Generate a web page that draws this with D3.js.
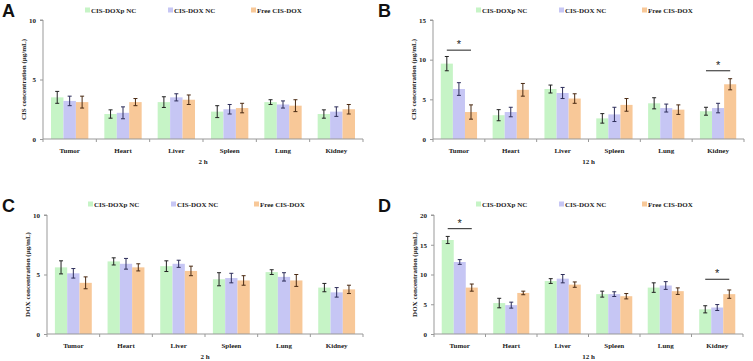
<!DOCTYPE html>
<html>
<head>
<meta charset="utf-8">
<script src="https://cdn.jsdelivr.net/npm/d3@7"></script>
<style>
  body { margin: 0; background: #fff; }
  svg text { font-family: "Liberation Serif", "Times New Roman", serif; font-weight: bold; fill: #222; }
</style>
</head>
<body>
<svg width="753" height="361"></svg>
<script>
var organs = ["Tumor", "Heart", "Liver", "Spleen", "Lung", "Kidney"];
var groups = ["CIS-DOXp NC", "CIS-DOX NC", "Free CIS-DOX"];
var colors = ["#c6f4c6", "#c6c6f4", "#f8c898"];
var errColors = ["#222222", "#2e2e5a", "#4a2a12"];

// panel A: CIS 2 h
var cis2hMean = [[3.5, 3.2, 3.1], [2.1, 2.2, 3.1], [3.1, 3.5, 3.3], [2.3, 2.5, 2.6], [3.1, 2.9, 2.8], [2.1, 2.3, 2.5]];
var cis2hErr  = [[0.5, 0.4, 0.5], [0.35, 0.5, 0.3], [0.45, 0.3, 0.4], [0.5, 0.4, 0.4], [0.2, 0.3, 0.5], [0.35, 0.4, 0.4]];
// panel B: CIS 12 h
var cis12hMean = [[9.5, 6.3, 3.4], [3.0, 3.4, 6.2], [6.3, 5.8, 5.1], [2.6, 3.1, 4.3], [4.5, 3.9, 3.7], [3.5, 3.9, 6.9]];
var cis12hErr  = [[0.9, 0.8, 0.9], [0.7, 0.6, 0.8], [0.5, 0.7, 0.6], [0.6, 0.9, 0.8], [0.7, 0.5, 0.6], [0.5, 0.6, 0.7]];
// panel C: DOX 2 h
var dox2hMean = [[5.6, 5.1, 4.3], [6.1, 5.9, 5.6], [5.7, 5.9, 5.3], [4.6, 4.7, 4.5], [5.2, 4.8, 4.5], [3.9, 3.5, 3.75]];
var dox2hErr  = [[0.55, 0.4, 0.5], [0.3, 0.45, 0.3], [0.45, 0.3, 0.4], [0.55, 0.4, 0.4], [0.2, 0.35, 0.5], [0.35, 0.4, 0.35]];
// panel D: DOX 12 h
var dox12hMean = [[15.8, 12.1, 7.8], [5.2, 4.85, 6.9], [8.9, 9.3, 8.3], [6.7, 6.7, 6.35], [7.8, 8.15, 7.2], [4.15, 4.45, 6.7]];
var dox12hErr  = [[0.6, 0.4, 0.6], [0.8, 0.5, 0.3], [0.4, 0.7, 0.45], [0.5, 0.4, 0.45], [0.8, 0.65, 0.55], [0.6, 0.5, 0.7]];

var yTicksA = [0, 5, 10];
var yTicksB = [0, 5, 10, 15];
var yTicksC = [0, 5, 10];
var yTicksD = [0, 5, 10, 15, 20];

// significance bars: organ index, y value
var sigB = [{organ: 0, y: 11.2}, {organ: 5, y: 8.6}];
var sigD = [{organ: 0, y: 17.7}, {organ: 5, y: 9.2}];

var panels = [
  {letter: "A", ox: 0, oy: 0, left: 43, right: 363, mean: cis2hMean, err: cis2hErr, ticks: yTicksA, ylab: "CIS concentration (\u03bcg/mL)", xlab: "2 h", sig: [], legendX: 85},
  {letter: "B", ox: 376, oy: 0, left: 57, right: 368, mean: cis12hMean, err: cis12hErr, ticks: yTicksB, ylab: "CIS concentration (\u03bcg/mL)", xlab: "12 h", sig: sigB, legendX: 100},
  {letter: "C", ox: 0, oy: 180, left: 47, right: 363, mean: dox2hMean, err: dox2hErr, ticks: yTicksC, ylab: "DOX concentration (\u03bcg/mL)", xlab: "2 h", sig: [], legendX: 88},
  {letter: "D", ox: 376, oy: 180, left: 58, right: 367, mean: dox12hMean, err: dox12hErr, ticks: yTicksD, ylab: "DOX concentration (\u03bcg/mL)", xlab: "12 h", sig: sigD, legendX: 100}
];

var svg = d3.select("svg");

panels.forEach(function(p) {
  var g = svg.append("g").attr("transform", "translate(" + p.ox + "," + p.oy + ")");
  var top = p.oy ? 35 : 20;
  var bottom = p.oy ? 154 : 139;

  var x0 = d3.scaleBand().domain(organs).range([p.left, p.right]).paddingInner(0.3).paddingOuter(0.15);
  var x1 = d3.scaleBand().domain(groups).range([0, x0.bandwidth()]);
  var y = d3.scaleLinear().domain([0, d3.max(p.ticks)]).range([bottom, top]);

  // panel letter
  g.append("text").attr("x", 2).attr("y", p.oy ? 32 : 17)
    .style("font-family", "'Liberation Sans', Arial, sans-serif")
    .style("font-size", "18px").style("fill", "#111").text(p.letter);

  // legend
  var leg = g.append("g").attr("transform", "translate(" + p.legendX + "," + (p.oy ? 24 : 10) + ")");
  groups.forEach(function(name, i) {
    var item = leg.append("g").attr("transform", "translate(" + (i * 83) + ",0)");
    item.append("rect").attr("x", 0).attr("y", -2.5).attr("width", 5).attr("height", 5).attr("fill", colors[i]);
    item.append("text").attr("x", 6).attr("y", 2.5).style("font-size", "7px").text(name);
  });

  // bars
  var rows = organs.map(function(o, i) {
    return groups.map(function(s, j) { return {organ: o, group: s, j: j, v: p.mean[i][j], e: p.err[i][j]}; });
  });
  var cat = g.selectAll(".cat").data(rows).enter().append("g")
    .attr("transform", function(d) { return "translate(" + x0(d[0].organ) + ",0)"; });
  cat.selectAll("rect").data(function(d) { return d; }).enter().append("rect")
    .attr("x", function(d) { return x1(d.group); })
    .attr("width", x1.bandwidth())
    .attr("y", function(d) { return y(d.v); })
    .attr("height", function(d) { return bottom - y(d.v); })
    .attr("fill", function(d) { return colors[d.j]; });

  // error bars
  var eb = cat.selectAll(".eb").data(function(d) { return d; }).enter().append("g")
    .attr("stroke", function(d) { return errColors[d.j]; }).attr("stroke-width", 1);
  eb.append("line")
    .attr("x1", function(d) { return x1(d.group) + x1.bandwidth() / 2; })
    .attr("x2", function(d) { return x1(d.group) + x1.bandwidth() / 2; })
    .attr("y1", function(d) { return y(d.v - d.e); })
    .attr("y2", function(d) { return y(d.v + d.e); });
  [-1, 1].forEach(function(s) {
    eb.append("line")
      .attr("x1", function(d) { return x1(d.group) + x1.bandwidth() / 2 - 2; })
      .attr("x2", function(d) { return x1(d.group) + x1.bandwidth() / 2 + 2; })
      .attr("y1", function(d) { return y(d.v + s * d.e); })
      .attr("y2", function(d) { return y(d.v + s * d.e); });
  });

  // axes
  var yAxis = d3.axisLeft(y).tickValues(p.ticks).tickSize(3).tickPadding(4);
  var ya = g.append("g").attr("transform", "translate(" + p.left + ",0)").call(yAxis);
  ya.select(".domain").attr("stroke", "#999").attr("d", "M-3," + top + "H0V" + bottom);
  ya.selectAll(".tick line").attr("stroke", "#999");
  ya.selectAll(".tick text").style("font-size", "7px").style("font-family", "'Liberation Serif', serif").style("font-weight", "bold").attr("fill", "#222");

  var xa = g.append("g").attr("transform", "translate(0," + bottom + ")");
  xa.append("line").attr("x1", p.left).attr("x2", p.right).attr("stroke", "#999");
  var step = (p.right - p.left) / organs.length;
  var bounds = d3.range(organs.length + 1).map(function(i) { return p.left + i * step; });
  xa.selectAll(".xt").data(bounds).enter().append("line")
    .attr("x1", function(d) { return d; }).attr("x2", function(d) { return d; })
    .attr("y1", 0).attr("y2", 3).attr("stroke", "#999");
  xa.selectAll(".xl").data(organs).enter().append("text")
    .attr("x", function(d) { return x0(d) + x0.bandwidth() / 2; })
    .attr("y", 14).attr("text-anchor", "middle").style("font-size", "7px").text(function(d) { return d; });

  // axis titles
  g.append("text").attr("x", (p.left + p.right) / 2).attr("y", bottom + 25)
    .attr("text-anchor", "middle").style("font-size", "7px").text(p.xlab);
  g.append("text")
    .attr("transform", "translate(" + (p.left - 17) + "," + ((top + bottom) / 2) + ") rotate(-90)")
    .attr("text-anchor", "middle").style("font-size", "7px").text(p.ylab);

  // significance marks: from centre of first bar to centre of last bar
  p.sig.forEach(function(s) {
    var o = organs[s.organ];
    var xa0 = x0(o) + x1(groups[0]) + x1.bandwidth() / 2;
    var xa1 = x0(o) + x1(groups[2]) + x1.bandwidth() / 2;
    g.append("line").attr("x1", xa0).attr("x2", xa1).attr("y1", y(s.y)).attr("y2", y(s.y))
      .attr("stroke", "#222").attr("stroke-width", 1);
    g.append("text").attr("x", (xa0 + xa1) / 2).attr("y", y(s.y) - 2)
      .attr("text-anchor", "middle").style("font-size", "11px")
      .style("font-family", "'Liberation Sans', sans-serif").style("font-weight", "normal").text("*");
  });
});
</script>
</body>
</html>
